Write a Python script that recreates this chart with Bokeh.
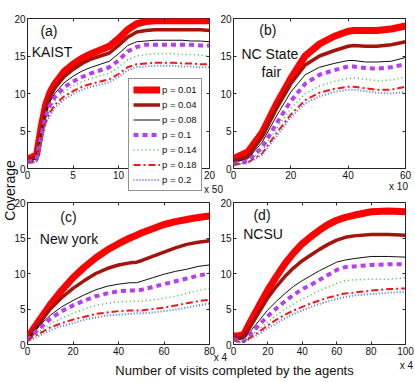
from bokeh.plotting import figure
from bokeh.models import Range1d, LinearAxis, FixedTicker, Legend, LegendItem, Label, GridBox
from bokeh.embed import file_html
from bokeh.resources import INLINE

# ---------------- data ----------------
p_labels = ["p = 0.01", "p = 0.04", "p = 0.08", "p = 0.1", "p = 0.14", "p = 0.18", "p = 0.2"]
y_ticks = [0, 5, 10, 15, 20]

# (a) KAIST, x in units of 50 visits
a_x = [0, 0.5, 1, 1.5, 2, 2.5, 3, 4, 5, 6, 7, 8, 9, 10, 11, 12, 13, 14, 15, 16, 17, 18, 19, 20]
a_p001 = [1.3, 1.5, 1.8, 5.5, 8.5, 10.2, 11.3, 12.9, 13.9, 14.7, 15.3, 15.8, 16.3, 17.3, 18.5, 19.3, 19.6, 19.7, 19.7, 19.7, 19.7, 19.7, 19.7, 19.7]
a_p004 = [1.1, 1.3, 1.5, 5.0, 8.0, 9.6, 10.7, 12.2, 13.2, 14.0, 14.6, 15.0, 15.4, 16.4, 17.5, 18.2, 18.4, 18.5, 18.5, 18.5, 18.5, 18.5, 18.5, 18.4]
a_p008 = [1.0, 1.1, 1.3, 4.6, 7.5, 9.0, 10.0, 11.4, 12.3, 13.0, 13.5, 13.9, 14.3, 15.3, 16.4, 16.9, 17.0, 17.1, 17.1, 17.1, 17.1, 17.0, 17.0, 16.9]
a_p010 = [0.9, 1.0, 1.2, 4.3, 7.0, 8.5, 9.5, 10.8, 11.6, 12.2, 12.7, 13.1, 13.5, 14.4, 15.6, 16.2, 16.5, 16.5, 16.5, 16.5, 16.5, 16.5, 16.4, 16.4]
a_p014 = [0.8, 0.9, 1.1, 4.0, 6.6, 8.0, 9.0, 10.2, 11.0, 11.6, 12.0, 12.4, 12.7, 13.5, 14.5, 15.0, 15.2, 15.3, 15.3, 15.3, 15.2, 15.2, 15.1, 15.0]
a_p018 = [0.8, 0.8, 1.0, 3.7, 6.2, 7.5, 8.5, 9.6, 10.3, 10.9, 11.3, 11.6, 11.9, 12.6, 13.5, 13.9, 14.0, 14.1, 14.1, 14.1, 14.0, 14.0, 13.9, 13.9]
a_p020 = [0.7, 0.8, 0.9, 3.5, 5.9, 7.1, 8.1, 9.2, 9.9, 10.5, 10.9, 11.2, 11.5, 12.2, 13.1, 13.5, 13.6, 13.7, 13.7, 13.7, 13.6, 13.6, 13.5, 13.5]

# (b) NC State fair, x in units of 10 visits
b_x = [0, 5, 10, 15, 20, 25, 30, 35, 40, 42, 46, 50, 55, 60]
b_p001 = [1.3, 2.2, 4.8, 8.6, 12.0, 15.0, 16.6, 17.6, 18.3, 18.4, 18.4, 18.4, 18.6, 19.0]
b_p004 = [1.0, 1.6, 4.2, 8.0, 11.3, 13.8, 15.0, 15.7, 16.3, 16.4, 16.3, 16.3, 16.5, 16.9]
b_p008 = [0.8, 1.3, 3.5, 7.0, 10.2, 12.5, 13.5, 14.0, 14.4, 14.4, 14.2, 14.2, 14.3, 14.8]
b_p010 = [0.6, 1.0, 2.8, 6.0, 9.0, 11.3, 12.5, 13.1, 13.6, 13.6, 13.4, 13.3, 13.5, 13.9]
b_p014 = [0.6, 0.9, 2.4, 5.3, 8.0, 10.0, 11.0, 11.6, 12.0, 12.1, 11.9, 11.7, 11.8, 12.2]
b_p018 = [0.5, 0.8, 2.0, 4.7, 7.2, 9.1, 10.1, 10.6, 10.9, 10.9, 10.7, 10.5, 10.5, 10.9]
b_p020 = [0.5, 0.7, 1.8, 4.3, 6.8, 8.7, 9.6, 10.2, 10.5, 10.5, 10.3, 10.1, 10.0, 10.2]

# (c) New york, x in units of 4 visits
c_x = [0, 2, 5, 10, 15, 20, 25, 30, 35, 40, 45, 48, 50, 55, 60, 65, 70, 75, 80]
c_p001 = [0.8, 1.9, 3.3, 5.6, 7.6, 9.4, 10.9, 12.2, 13.3, 14.2, 15.0, 15.4, 15.7, 16.3, 16.9, 17.3, 17.6, 17.9, 18.1]
c_p004 = [0.7, 1.6, 2.9, 5.0, 6.6, 7.9, 9.0, 10.0, 10.7, 11.2, 11.5, 11.6, 11.8, 12.4, 13.0, 13.6, 14.1, 14.4, 14.6]
c_p008 = [0.7, 1.5, 2.6, 4.1, 5.3, 6.2, 7.0, 7.7, 8.2, 8.5, 8.7, 8.7, 8.9, 9.4, 9.9, 10.3, 10.6, 11.0, 11.2]
c_p010 = [0.6, 1.3, 2.2, 3.6, 4.7, 5.5, 6.2, 6.8, 7.2, 7.5, 7.6, 7.6, 7.7, 8.1, 8.5, 8.9, 9.3, 9.7, 10.0]
c_p014 = [0.5, 1.1, 1.8, 2.9, 3.7, 4.4, 5.0, 5.5, 5.8, 6.0, 6.1, 6.1, 6.1, 6.3, 6.5, 6.8, 7.2, 7.6, 7.9]
c_p018 = [0.5, 1.0, 1.5, 2.4, 3.0, 3.5, 3.9, 4.3, 4.5, 4.7, 4.8, 4.8, 4.8, 5.0, 5.2, 5.5, 5.8, 6.1, 6.3]
c_p020 = [0.4, 0.7, 1.2, 2.0, 2.6, 3.0, 3.5, 3.8, 4.1, 4.2, 4.3, 4.4, 4.4, 4.5, 4.7, 4.9, 5.2, 5.5, 5.8]

# (d) NCSU, x in units of 4 visits
d_x = [0, 3, 6, 10, 15, 20, 25, 30, 35, 40, 45, 50, 55, 60, 65, 70, 80, 90, 100]
d_p001 = [1.2, 1.2, 1.4, 3.3, 5.5, 7.7, 9.6, 11.4, 12.9, 14.2, 15.2, 16.1, 16.9, 17.5, 17.9, 18.2, 18.7, 18.8, 18.7]
d_p004 = [1.0, 0.9, 1.1, 2.6, 4.6, 6.6, 8.2, 9.6, 10.8, 11.8, 12.6, 13.4, 14.1, 14.7, 15.1, 15.3, 15.5, 15.5, 15.4]
d_p008 = [0.8, 0.7, 0.8, 1.9, 3.4, 4.9, 6.1, 7.2, 8.2, 9.0, 9.7, 10.4, 11.0, 11.6, 11.9, 12.1, 12.4, 12.4, 12.3]
d_p010 = [0.8, 0.5, 0.5, 1.5, 2.8, 4.0, 5.1, 6.1, 7.0, 7.8, 8.4, 9.1, 9.8, 10.5, 10.9, 11.0, 11.2, 11.3, 11.3]
d_p014 = [0.6, 0.4, 0.5, 1.2, 2.2, 3.2, 4.1, 5.0, 5.7, 6.4, 7.0, 7.6, 8.1, 8.6, 9.0, 9.1, 9.2, 9.2, 9.4]
d_p018 = [0.6, 0.4, 0.4, 1.0, 1.8, 2.7, 3.5, 4.2, 4.8, 5.3, 5.8, 6.2, 6.6, 6.9, 7.2, 7.3, 7.6, 7.8, 7.9]
d_p020 = [0.5, 0.3, 0.3, 0.8, 1.5, 2.3, 3.0, 3.7, 4.3, 4.8, 5.3, 5.7, 6.1, 6.4, 6.7, 6.9, 7.1, 7.3, 7.4]

# ---------------- styles ----------------
FONT = "Liberation Sans"
AXC = "#262626"
line_styles = [
    dict(line_color="#ff0000", line_width=7, line_dash="solid"),
    dict(line_color="#a3150b", line_width=3.5, line_dash="solid"),
    dict(line_color="#111111", line_width=1, line_dash="solid"),
    dict(line_color="#b73ef5", line_width=4, line_dash="5 4"),
    dict(line_color="#3cbf3c", line_width=1.5, line_dash="1 3"),
    dict(line_color="#ee1a1a", line_width=2, line_dash="7 3 2 3"),
    dict(line_color="#5273ff", line_width=2, line_dash="1 2"),
]


def style_axis(ax, ticks, show_labels=True, overrides=None):
    ax.ticker = FixedTicker(ticks=ticks)
    ax.major_tick_in = 3
    ax.major_tick_out = 0
    ax.minor_tick_line_color = None
    ax.axis_line_color = None
    ax.major_tick_line_color = AXC
    ax.major_label_text_font = FONT
    if show_labels:
        ax.major_label_text_font_size = "10px"
        ax.major_label_text_color = "#111111"
        ax.major_label_standoff = 2
        if overrides:
            ax.major_label_overrides = overrides
    else:
        ax.major_label_text_font_size = "0px"
        ax.major_label_text_color = None
        ax.major_label_standoff = 0
        ax.major_label_overrides = {t: "" for t in ticks}


def panel(w, h, bl, br, bt, bb, xmax, xticks, xs, series, texts, x_overrides=None):
    p = figure(width=w, height=h, x_range=Range1d(0, xmax), y_range=Range1d(0, 20),
               output_backend="svg", toolbar_location=None,
               min_border_left=bl, min_border_right=br, min_border_top=bt, min_border_bottom=bb,
               background_fill_color="white", border_fill_color="white")
    p.xgrid.visible = False
    p.ygrid.visible = False
    p.outline_line_color = AXC
    p.outline_line_width = 1
    p.add_layout(LinearAxis(), "right")
    p.add_layout(LinearAxis(), "above")
    style_axis(p.below[0], xticks, True, x_overrides)
    style_axis(p.left[0], y_ticks, True)
    style_axis(p.right[0], y_ticks, False)
    style_axis(p.above[0], xticks, False)
    for ys, st in zip(series, line_styles):
        p.line(xs, ys, **st)
    for (tx, ty, t) in texts:
        p.add_layout(Label(x=tx, y=ty, text=t, text_align="center", text_baseline="middle",
                           text_font=FONT, text_font_size="14px", text_color="#111111"))
    return p


W0, W1 = 216, 198
H0, H1 = 196, 184

a_series = [a_p001, a_p004, a_p008, a_p010, a_p014, a_p018, a_p020]

fa = panel(W0, H0, 27, 7, 18, 28, 20, [0, 5, 10, 15, 20], a_x, a_series,
           [(2.36, 18.27, "(a)"), (2.69, 15.53, "KAIST")], x_overrides={15: ""})
fb = panel(W1, H0, 17, 9, 18, 28, 60, [0, 20, 40, 60], b_x,
           [b_p001, b_p004, b_p008, b_p010, b_p014, b_p018, b_p020],
           [(12.0, 18.53, "(b)"), (12.7, 15.27, "NC State"), (13.2, 12.93, "fair")])
fc = panel(W0, H1, 27, 7, 6, 36, 80, [0, 20, 40, 60, 80], c_x,
           [c_p001, c_p004, c_p008, c_p010, c_p014, c_p018, c_p020],
           [(18.0, 17.89, "(c)"), (18.24, 14.86, "New york")])
fd = panel(W1, H1, 17, 9, 6, 36, 100, [0, 20, 40, 60, 80, 100], d_x,
           [d_p001, d_p004, d_p008, d_p010, d_p014, d_p018, d_p020],
           [(16.57, 18.24, "(d)"), (17.15, 15.56, "NCSU")])

inner = GridBox(children=[(fa, 0, 0), (fb, 0, 1), (fc, 1, 0), (fd, 1, 1)], spacing=0)

# transparent overlay carrying the shared texts and the legend (pixel positions)
TW, TH = W0 + W1, H0 + H1
ov = figure(width=TW, height=TH, x_range=Range1d(0, TW), y_range=Range1d(TH, 0),
            x_axis_type=None, y_axis_type=None, output_backend="svg", toolbar_location=None,
            min_border=0, background_fill_color=None, border_fill_color=None,
            outline_line_color=None)
ov.grid.visible = False
# the legend's sample lines reuse panel (a)'s series on a range that keeps them off the canvas
ov.extra_y_ranges = {"legend_src": Range1d(-100, -80)}
legend_rends = [ov.line(a_x, ys, y_range_name="legend_src", **st)
                for ys, st in zip(a_series, line_styles)]
legend = Legend(items=[LegendItem(label=lab, renderers=[r]) for lab, r in zip(p_labels, legend_rends)],
                location=(128, TH - 191), margin=0, padding=4, spacing=2,
                glyph_width=27, glyph_height=13, label_height=13, label_standoff=2,
                label_text_font=FONT, label_text_font_size="9.5px", label_text_color="#111111",
                border_line_color=AXC, border_line_width=1,
                background_fill_color="white", background_fill_alpha=1.0)
ov.add_layout(legend)


def ov_label(x, y, t, size, angle=0):
    ov.add_layout(Label(x=x, y=y, text=t, angle=angle, angle_units="deg",
                        text_align="center", text_baseline="middle",
                        text_font=FONT, text_font_size=size, text_color="#111111"))


ov_label(9, 190, "Coverage", "14px", angle=90)
ov_label(213, 189, "x 50", "10px")
ov_label(398, 186, "x 10", "10px")
ov_label(220, 357, "x 4", "10px")
ov_label(406, 365, "x 4", "10px")
ov_label(234, 370, "Number of visits completed by the agents", "13px")

root = GridBox(children=[(inner, 0, 0), (ov, 0, 0)], spacing=0)

open("out.html", "w").write(file_html(root, INLINE))
